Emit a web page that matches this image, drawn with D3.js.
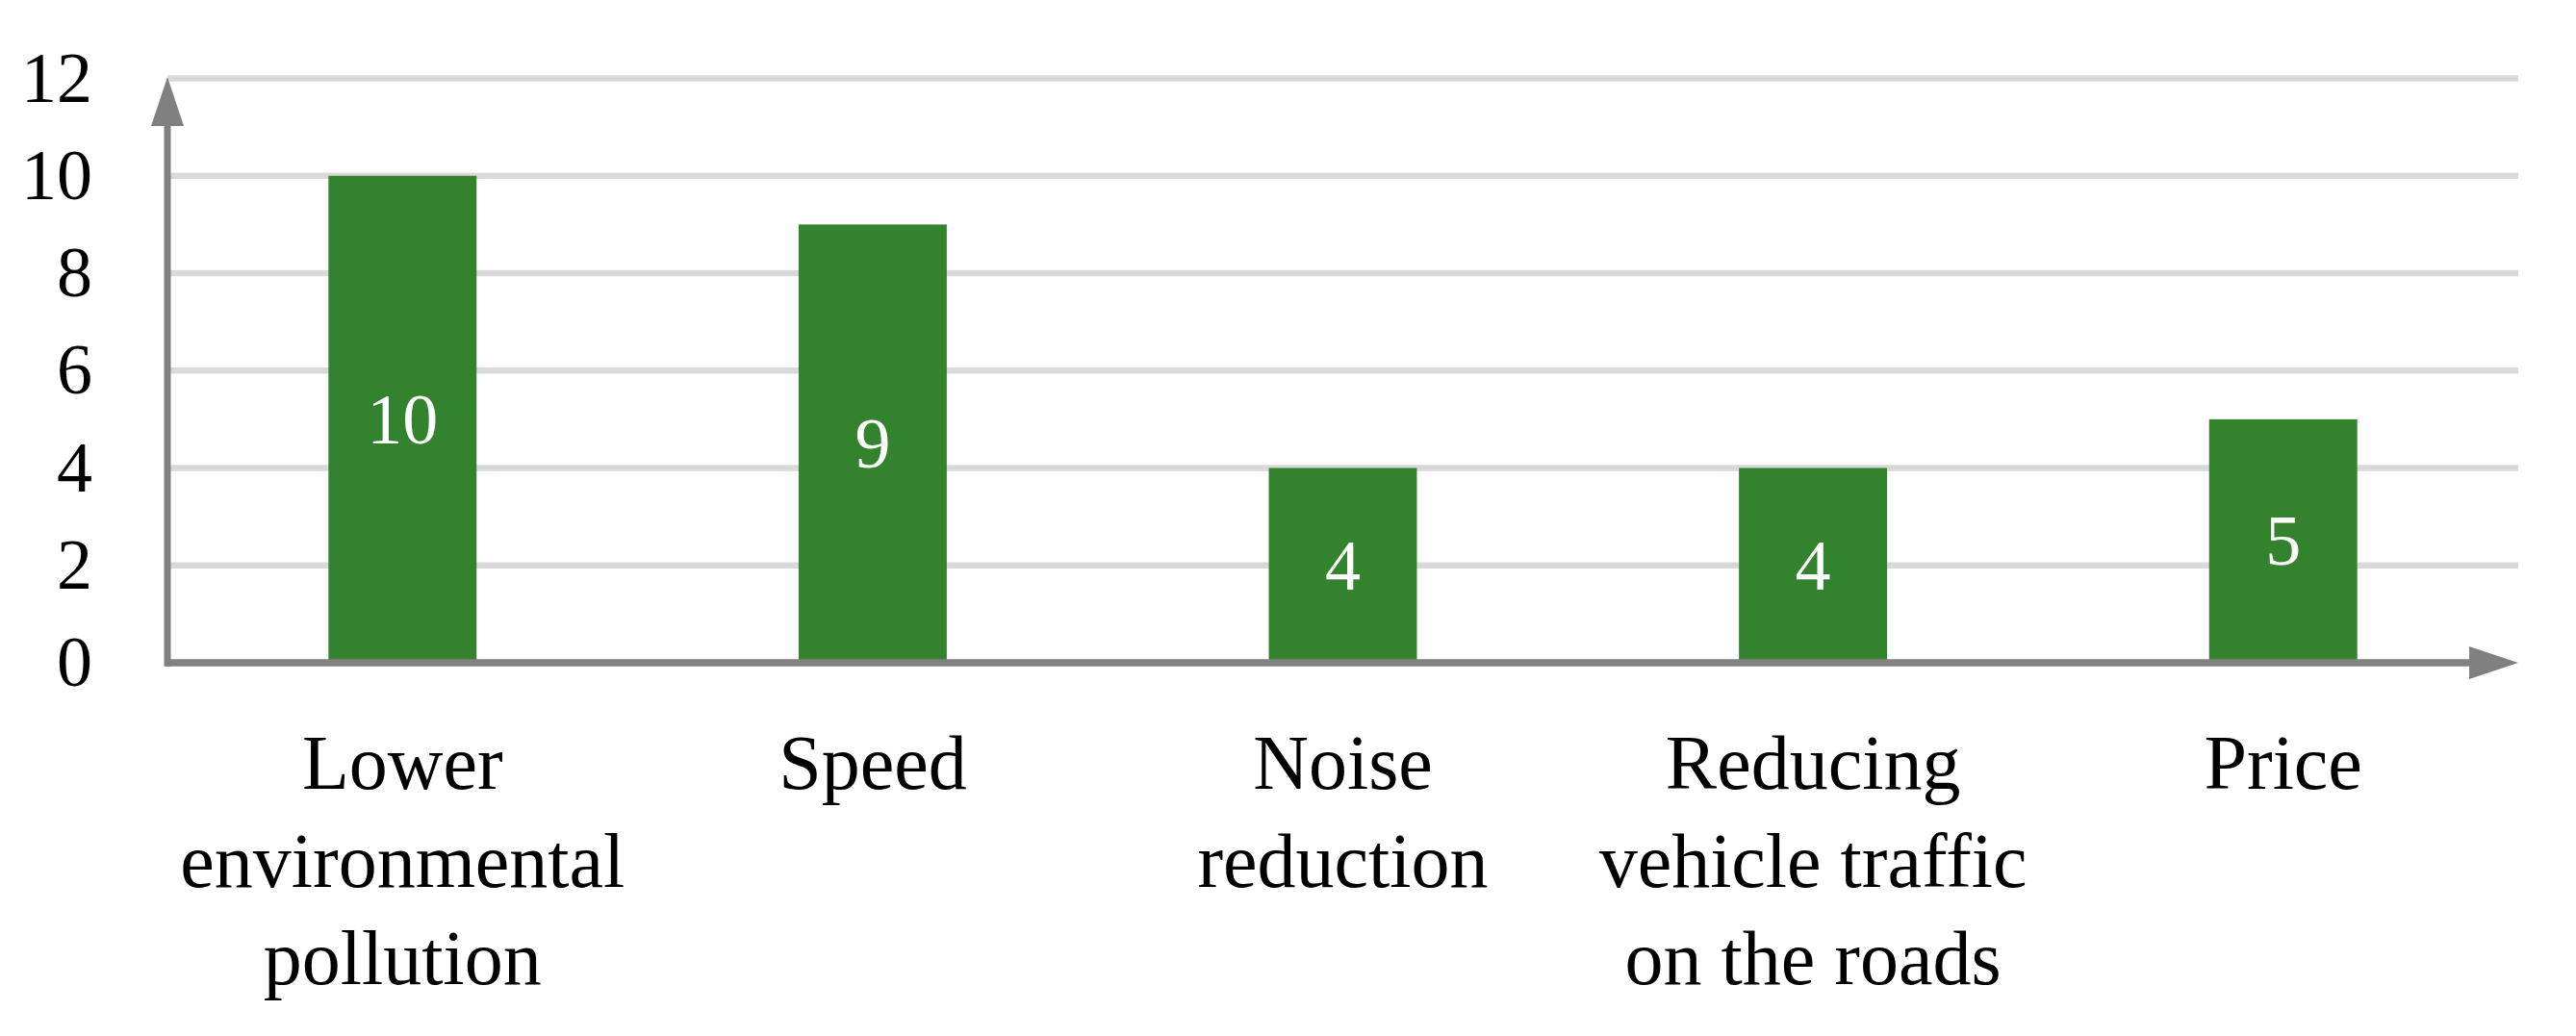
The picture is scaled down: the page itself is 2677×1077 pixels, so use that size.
<!DOCTYPE html>
<html>
<head>
<meta charset="utf-8">
<script src="https://cdn.jsdelivr.net/npm/d3@7"></script>
<style>
  html, body { margin: 0; padding: 0; background: #ffffff; }
  svg { display: block; }
</style>
</head>
<body>
<svg id="chart" width="2677" height="1077"></svg>
<script>
// ---- data ----
const categories = [
  ["Lower", "environmental", "pollution"],
  ["Speed"],
  ["Noise", "reduction"],
  ["Reducing", "vehicle traffic", "on the roads"],
  ["Price"]
];
const values = [10, 9, 4, 4, 5];
const yTicks = [0, 2, 4, 6, 8, 10, 12];

// ---- layout ----
const W = 2677, H = 1077;
const x0 = 174, x1 = 2617, yBase = 689, yTop = 81.5;
const fontFamily = "'Palatino Linotype', 'Book Antiqua', Palatino, 'Liberation Serif', serif";
const green = "#33822d", grid = "#d9d9d9", axisCol = "#808080";

const svg = d3.select("#chart");

const keys = categories.map((c, i) => i);
const x = d3.scaleBand().domain(keys).range([x0, x1]).paddingInner(0.685).paddingOuter(0.3425);
const y = d3.scaleLinear().domain([0, 12]).range([yBase, yTop]);

// gridlines
svg.append("g").selectAll("line").data(yTicks.filter(d => d > 0)).join("line")
  .attr("x1", x0).attr("x2", x1)
  .attr("y1", d => y(d)).attr("y2", d => y(d))
  .attr("stroke", grid).attr("stroke-width", 6.5);

// y tick labels
svg.append("g").selectAll("text").data(yTicks).join("text")
  .attr("x", 96).attr("y", d => y(d) + 24)
  .attr("text-anchor", "end")
  .attr("font-family", fontFamily).attr("font-size", 74).attr("fill", "#000")
  .text(d => d);

// bars
svg.append("g").selectAll("rect").data(values).join("rect")
  .attr("x", (d, i) => x(i)).attr("width", x.bandwidth())
  .attr("y", d => y(d)).attr("height", d => y(0) - y(d))
  .attr("fill", green);

// value labels
svg.append("g").selectAll("text").data(values).join("text")
  .attr("x", (d, i) => x(i) + x.bandwidth() / 2)
  .attr("y", d => (y(d) + y(0)) / 2 + 25)
  .attr("text-anchor", "middle")
  .attr("font-family", fontFamily).attr("font-size", 74).attr("fill", "#fff")
  .text(d => d);

// axes with arrows
const ax = svg.append("g");
ax.append("line").attr("x1", x0).attr("x2", x0).attr("y1", yBase + 3.75).attr("y2", 128)
  .attr("stroke", axisCol).attr("stroke-width", 7);
ax.append("path").attr("d", `M${x0},${80} L${x0 - 17},${131} L${x0 + 17},${131} Z`).attr("fill", axisCol);
ax.append("line").attr("x1", x0).attr("x2", 2569).attr("y1", yBase).attr("y2", yBase)
  .attr("stroke", axisCol).attr("stroke-width", 7.5);
ax.append("path").attr("d", `M${x1},${yBase} L${2566},${yBase - 17} L${2566},${yBase + 17} Z`).attr("fill", axisCol);

// category labels
const cat = svg.append("g");
categories.forEach((lines, i) => {
  const t = cat.append("text")
    .attr("text-anchor", "middle")
    .attr("font-family", fontFamily).attr("font-size", 80).attr("fill", "#000");
  lines.forEach((ln, j) => {
    t.append("tspan").attr("x", x(i) + x.bandwidth() / 2).attr("y", 820 + j * 101.7).text(ln);
  });
});
</script>
</body>
</html>
